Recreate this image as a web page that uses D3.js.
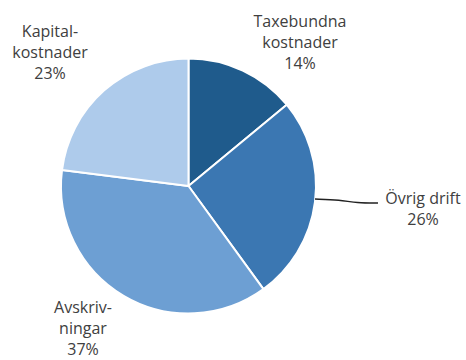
<!DOCTYPE html>
<html>
<head>
<meta charset="utf-8">
<script src="https://cdn.jsdelivr.net/npm/d3@7"></script>
<style>
  body { margin: 0; background: #fff; }
  text { font-family: "Open Sans", sans-serif; font-size: 16px; fill: #404040; }
</style>
</head>
<body>
<div id="chart"></div>
<script>
// Cost shares, clockwise from 12 o'clock
const categories = ["Taxebundna kostnader", "Övrig drift", "Avskrivningar", "Kapitalkostnader"];
const shares = [14, 26, 37, 23];
const labelLines = [
  ["Taxebundna", "kostnader", "14%"],
  ["Övrig drift", "26%"],
  ["Avskriv-", "ningar", "37%"],
  ["Kapital-", "kostnader", "23%"]
];
const colors = ["#1f5b8c", "#3b77b2", "#6d9fd3", "#aecbeb"];

const width = 466, height = 360;
const cx = 188.5, cy = 186, radius = 127.5;

// label anchor (center x, first baseline y) per slice
const labelPos = [
  {x: 300, y: 27},
  {x: 423, y: 204},
  {x: 83, y: 313},
  {x: 50, y: 37}
];
const lineHeight = 21;

const svg = d3.select("#chart").append("svg")
  .attr("width", width)
  .attr("height", height);

const g = svg.append("g")
  .attr("transform", `translate(${cx},${cy})`);

const color = d3.scaleOrdinal().domain(categories).range(colors);

const pie = d3.pie().sort(null).value(d => d.value);
const arcs = pie(categories.map((c, i) => ({name: c, value: shares[i], i: i})));

const arc = d3.arc().innerRadius(0).outerRadius(radius);
const edgeArc = d3.arc().innerRadius(radius).outerRadius(radius);

g.selectAll("path.slice")
  .data(arcs)
  .join("path")
    .attr("class", "slice")
    .attr("d", arc)
    .attr("fill", d => color(d.data.name))
    .attr("stroke", "#fff")
    .attr("stroke-width", 2)
    .attr("stroke-linejoin", "round");

// leader line for "Övrig drift"
const o = arcs[1];
const start = edgeArc.centroid(o);
const startAbs = [cx + start[0], cy + start[1] - 3];
svg.append("path")
  .attr("d", d3.line().curve(d3.curveBasis)([
    startAbs,
    [startAbs[0] + 25, startAbs[1] + 1],
    [startAbs[0] + 42, startAbs[1] + 4],
    [startAbs[0] + 63, startAbs[1] + 4]
  ]))
  .attr("fill", "none")
  .attr("stroke", "#222")
  .attr("stroke-width", 1.5);

// labels
const labels = svg.selectAll("text.label")
  .data(arcs)
  .join("text")
    .attr("class", "label")
    .attr("text-anchor", "middle")
    .attr("x", d => labelPos[d.data.i].x)
    .attr("y", d => labelPos[d.data.i].y);

labels.selectAll("tspan")
  .data(d => labelLines[d.data.i].map(t => ({t, x: labelPos[d.data.i].x})))
  .join("tspan")
    .attr("x", d => d.x)
    .attr("dy", (d, i) => i === 0 ? 0 : lineHeight)
    .text(d => d.t);
</script>
</body>
</html>
